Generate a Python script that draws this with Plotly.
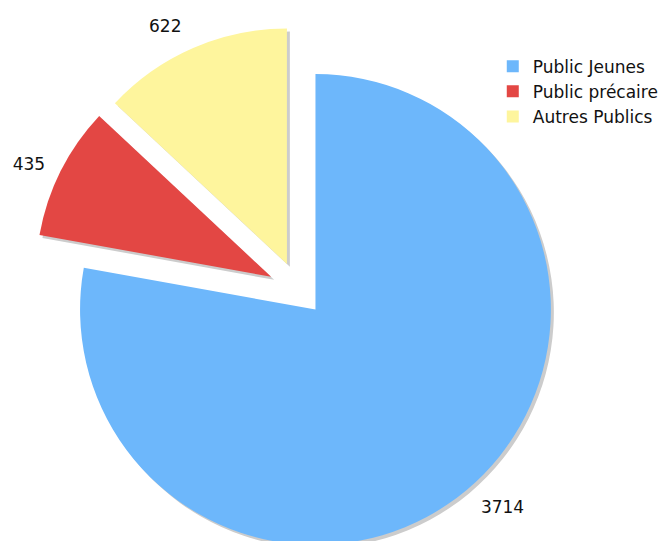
import plotly.graph_objects as go

labels = ["Public Jeunes", "Public précaire", "Autres Publics"]
values = [3714, 435, 622]
colors = ["#6db7fb", "#e34744", "#fef59d"]

W, H = 667, 600          # figure size (the view shows the top part)
OFF_X, OFF_Y = 10, 8     # page body margin (plus small correction)
R = 239
# slice centers in screen px (top-based): blue base, red and yellow pulled out
centers = [(312, 307), (267, 274), (283, 261)]
label_extra = [15, 12, 17]   # how far the value labels sit beyond the rim
shadow_dx, shadow_dy = 3, 3
shadow_color = "#cccccc"
TRANSPARENT = "rgba(0,0,0,0)"
FONT = "DejaVu Sans"


def domain(cx, cy, r):
    cx, cy = cx - OFF_X, cy - OFF_Y
    x0 = max(0, (cx - r) / W)
    x1 = min(1, (cx + r) / W)
    y0 = max(0, (H - cy - r) / H)
    y1 = min(1, (H - cy + r) / H)
    return dict(x=[x0, x1], y=[y0, y1])


def pie(cols, dom, **kw):
    return go.Pie(labels=labels, values=values, sort=False, direction="clockwise",
                  marker=dict(colors=cols), domain=dom, **kw)


fig = go.Figure()

# legend-only trace (tiny, hidden under the big slice)
fig.add_trace(pie(colors, dict(x=[0.45, 0.451], y=[0.5, 0.501]),
                  textinfo="none", hoverinfo="skip", showlegend=True))

# shadows
for i, (cx, cy) in enumerate(centers):
    cols = [shadow_color if j == i else TRANSPARENT for j in range(len(values))]
    fig.add_trace(pie(cols, domain(cx + shadow_dx, cy + shadow_dy, R),
                      textinfo="none", hoverinfo="skip", showlegend=False))

# main slices
for i, (cx, cy) in enumerate(centers):
    cols = [colors[j] if j == i else TRANSPARENT for j in range(len(values))]
    fig.add_trace(pie(cols, domain(cx, cy, R), textinfo="none",
                      hoverinfo="label+value", showlegend=False))

# value labels (outside text of a slightly larger transparent pie)
for i, (cx, cy) in enumerate(centers):
    tt = ["%{value}" if j == i else "" for j in range(len(values))]
    fig.add_trace(pie([TRANSPARENT] * len(values), domain(cx, cy, R + label_extra[i]),
                      texttemplate=tt, textposition="outside",
                      outsidetextfont=dict(family=FONT, size=17, color="#111111"),
                      hoverinfo="skip", showlegend=False))

fig.update_layout(
    width=W, height=H,
    margin=dict(l=0, r=0, t=0, b=0),
    paper_bgcolor="white", plot_bgcolor="white",
    font=dict(family=FONT, size=17, color="#111111"),
    legend=dict(x=(532 - OFF_X - 40) / W, y=1 - (44 - OFF_Y) / H,
                xanchor="left", yanchor="top",
                bgcolor="rgba(0,0,0,0)", font=dict(size=17), tracegroupgap=0),
)

fig.write_html("out.html")
